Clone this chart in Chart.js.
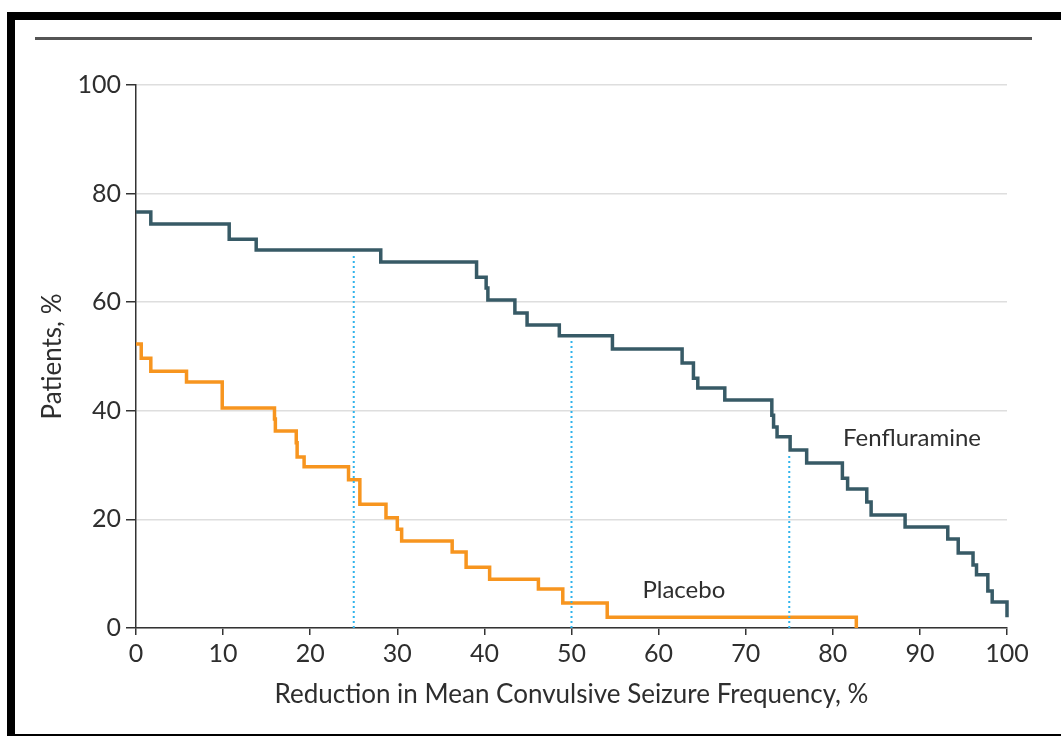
<!DOCTYPE html>
<html>
<head>
<meta charset="utf-8">
<script src="https://cdn.jsdelivr.net/npm/chart.js@4.4.1/dist/chart.umd.min.js"></script>
<style>
    html, body { margin: 0; padding: 0; background: #fff; }
    #wrap { position: relative; width: 1061px; height: 736px; overflow: hidden; }
    #chart { position: absolute; left: 0; top: 0; }
    .band { position: absolute; background: #000; }
    .rule { position: absolute; left: 35px; top: 37px; width: 997px; height: 3px; background: #555; }
</style>
</head>
<body>
<div id="wrap">
    <canvas id="chart" width="1061" height="736"></canvas>
    <div class="band" style="left:7px;top:12px;width:1054px;height:8px;"></div>
    <div class="band" style="left:7px;top:12px;width:8px;height:724px;"></div>
    <div class="band" style="left:7px;top:734px;width:1054px;height:2px;"></div>
    <div class="rule"></div>
</div>
<script>
// step points: x where the curve drops, y = level after the drop
const fenfluramineX = [0, 1.7, 10.7, 13.8, 28.1, 39.1, 40.2, 40.4, 43.5, 44.9, 48.6, 54.7, 62.7, 64.0, 64.5, 67.6, 73.0, 73.2, 73.6, 75.1, 77.0, 81.1, 81.7, 83.9, 84.4, 88.3, 93.2, 94.4, 96.1, 96.5, 97.8, 98.3, 100];
const fenfluramineY = [76.6, 74.4, 71.6, 69.6, 67.4, 64.6, 62.6, 60.4, 58.0, 55.8, 53.8, 51.4, 48.8, 46.0, 44.2, 42.0, 39.2, 37.0, 35.2, 32.8, 30.4, 27.6, 25.6, 23.2, 20.8, 18.6, 16.4, 13.8, 11.6, 9.8, 6.8, 4.8, 2.0];

const placeboX = [0, 0.6, 1.7, 5.8, 9.9, 15.9, 16.0, 18.4, 18.5, 19.3, 24.4, 25.7, 28.7, 30.0, 30.5, 36.3, 37.9, 40.6, 46.2, 49.0, 54.1, 82.7];
const placeboY = [52.3, 49.7, 47.3, 45.3, 40.5, 38.5, 36.3, 34.1, 31.5, 29.7, 27.3, 22.8, 20.3, 18.2, 16.0, 14.0, 11.2, 9.0, 7.2, 4.6, 2.0, 0];

// dotted reference lines at 25/50/75% reduction, with their top ends
const refX = [25, 50, 75];
const refTop = [69, 53, 32];

const xTicks = [0, 10, 20, 30, 40, 50, 60, 70, 80, 90, 100];
const yTicks = [0, 20, 40, 60, 80, 100];

const seriesLabels = [
    { text: 'Fenfluramine', x: 89.1, y: 35.0 },
    { text: 'Placebo', x: 62.9, y: 7.0 }
];

const FONT = 'Lato, "Open Sans", sans-serif';
const TEXT = '#2e2e2e';
const AXIS = '#333';

function toPoints(xs, ys) {
    return xs.map((x, i) => ({ x: x, y: ys[i] }));
}

const refSets = refX.map((x, i) => ({
    label: 'ref' + x,
    data: [{ x: x, y: 0 }, { x: x, y: refTop[i] }],
    borderColor: '#2fb4ec',
    borderWidth: 2,
    borderDash: [2, 3],
    pointRadius: 0,
    fill: false
}));

const labelPlugin = {
    id: 'seriesLabels',
    afterDatasetsDraw(chart) {
        const ctx = chart.ctx;
        const xs = chart.scales.x;
        const ys = chart.scales.y;
        ctx.save();
        ctx.font = '24px ' + FONT;
        ctx.fillStyle = TEXT;
        ctx.textAlign = 'center';
        ctx.textBaseline = 'middle';
        seriesLabels.forEach(l => {
            ctx.fillText(l.text, xs.getPixelForValue(l.x), ys.getPixelForValue(l.y));
        });
        ctx.restore();
    }
};

new Chart(document.getElementById('chart').getContext('2d'), {
    type: 'line',
    data: {
        datasets: [
            ...refSets,
            {
                label: 'Placebo',
                data: toPoints(placeboX, placeboY),
                borderColor: '#f7951f',
                borderWidth: 3.5,
                stepped: 'before',
                pointRadius: 0,
                fill: false,
                clip: 6
            },
            {
                label: 'Fenfluramine',
                data: toPoints(fenfluramineX, fenfluramineY),
                borderColor: '#375a66',
                borderWidth: 3.5,
                stepped: 'before',
                pointRadius: 0,
                fill: false,
                clip: 6
            }
        ]
    },
    options: {
        responsive: false,
        animation: false,
        layout: { padding: { left: 10, right: 54, top: 85, bottom: 20 } },
        plugins: {
            legend: { display: false },
            tooltip: { enabled: false }
        },
        scales: {
            x: {
                type: 'linear',
                min: 0,
                max: 100,
                afterFit: scale => { scale.height = 88; },
                afterBuildTicks: scale => { scale.ticks = xTicks.map(v => ({ value: v })); },
                grid: { drawOnChartArea: false, tickLength: 7, tickColor: AXIS, lineWidth: 1.5 },
                border: { color: AXIS, width: 1.5 },
                ticks: { color: TEXT, font: { family: FONT, size: 25 }, padding: 4, maxRotation: 0 },
                title: {
                    display: true,
                    text: 'Reduction in Mean Convulsive Seizure Frequency, %',
                    color: TEXT,
                    font: { family: FONT, size: 26 },
                    padding: { top: 0, bottom: 6 }
                }
            },
            y: {
                type: 'linear',
                min: 0,
                max: 100,
                afterFit: scale => { scale.width = 126; },
                afterBuildTicks: scale => { scale.ticks = yTicks.map(v => ({ value: v })); },
                grid: { color: '#dedede', lineWidth: 1.5, tickLength: 10, tickColor: AXIS },
                border: { color: AXIS, width: 1.5 },
                ticks: { color: TEXT, font: { family: FONT, size: 25 }, padding: 5 },
                title: {
                    display: true,
                    text: 'Patients, %',
                    color: TEXT,
                    font: { family: FONT, size: 26 },
                    padding: { top: 27, bottom: 0 }
                }
            }
        }
    },
    plugins: [labelPlugin]
});
</script>
</body>
</html>
